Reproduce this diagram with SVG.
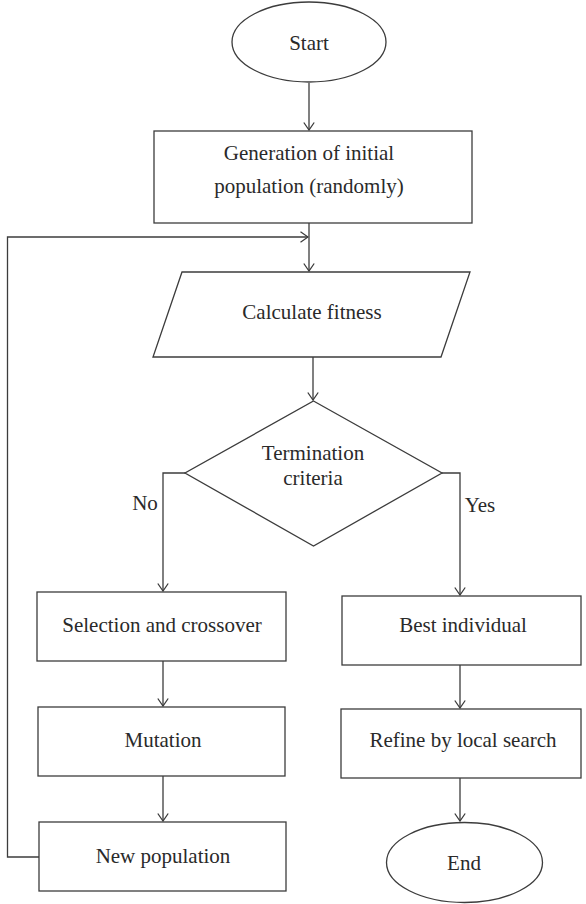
<svg xmlns="http://www.w3.org/2000/svg" width="586" height="904" viewBox="0 0 586 904">
<defs>
<style>
.s{fill:#fff;stroke:#3c3c3c;stroke-width:1.3}
.c{fill:none;stroke:#3c3c3c;stroke-width:1.3}
text{font-family:'Liberation Serif','DejaVu Serif',serif;font-size:21px;fill:#2a2a2a;text-anchor:middle}
</style>
<marker id="ah" markerUnits="userSpaceOnUse" markerWidth="9" markerHeight="12" viewBox="0 0 9 12" refX="8" refY="6" orient="auto">
<path d="M0.5,0.8 L8,6 L0.5,11.2" fill="none" stroke="#3c3c3c" stroke-width="1.3"/>
</marker>
</defs>
<rect width="586" height="904" fill="#fff"/>
<g id="connectors">
<line class="c" x1="309" y1="83" x2="309" y2="130" marker-end="url(#ah)"/>
<line class="c" x1="309" y1="223" x2="309" y2="271" marker-end="url(#ah)"/>
<polyline class="c" points="39,857 7.5,857 7.5,237 308,237" marker-end="url(#ah)"/>
<line class="c" x1="313" y1="357" x2="313" y2="400" marker-end="url(#ah)"/>
<polyline class="c" points="185,473 163,473 163,591" marker-end="url(#ah)"/>
<polyline class="c" points="442,473 460,473 460,595" marker-end="url(#ah)"/>
<line class="c" x1="163" y1="661" x2="163" y2="706" marker-end="url(#ah)"/>
<line class="c" x1="163" y1="776" x2="163" y2="821" marker-end="url(#ah)"/>
<line class="c" x1="460" y1="665" x2="460" y2="708" marker-end="url(#ah)"/>
<line class="c" x1="460" y1="778" x2="460" y2="821" marker-end="url(#ah)"/>
<text x="145" y="510" font-family="Liberation Serif, serif">No</text>
<text x="480" y="512" font-family="Liberation Serif, serif">Yes</text>
</g>
<g id="start" font-family="Liberation Serif, serif">
<ellipse class="s" cx="309" cy="42" rx="77" ry="40"/>
<text x="309" y="50">Start</text>
</g>
<g id="init">
<rect class="s" x="154" y="131" width="318" height="92"/>
<text x="309" y="160">Generation of initial</text>
<text x="309" y="193">population (randomly)</text>
</g>
<g id="fitness">
<polygon class="s" points="182,272 470,272 441,357 153,357"/>
<text x="312" y="319">Calculate fitness</text>
</g>
<g id="termination">
<polygon class="s" points="313.5,401 442,473 313.5,546 185,473"/>
<text x="313" y="460">Termination</text>
<text x="313" y="485">criteria</text>
</g>
<g id="selection">
<rect class="s" x="37" y="592" width="249" height="69"/>
<text x="162" y="632">Selection and crossover</text>
</g>
<g id="mutation">
<rect class="s" x="38" y="707" width="247" height="69"/>
<text x="163" y="747">Mutation</text>
</g>
<g id="newpop">
<rect class="s" x="39" y="822" width="247" height="69"/>
<text x="163" y="863">New population</text>
</g>
<g id="best">
<rect class="s" x="342" y="596" width="239" height="69"/>
<text x="463" y="632">Best individual</text>
</g>
<g id="refine">
<rect class="s" x="341" y="709" width="240" height="69"/>
<text x="463" y="747">Refine by local search</text>
</g>
<g id="end">
<ellipse class="s" cx="464.5" cy="862.5" rx="78" ry="40"/>
<text x="464" y="870">End</text>
</g>
</svg>
